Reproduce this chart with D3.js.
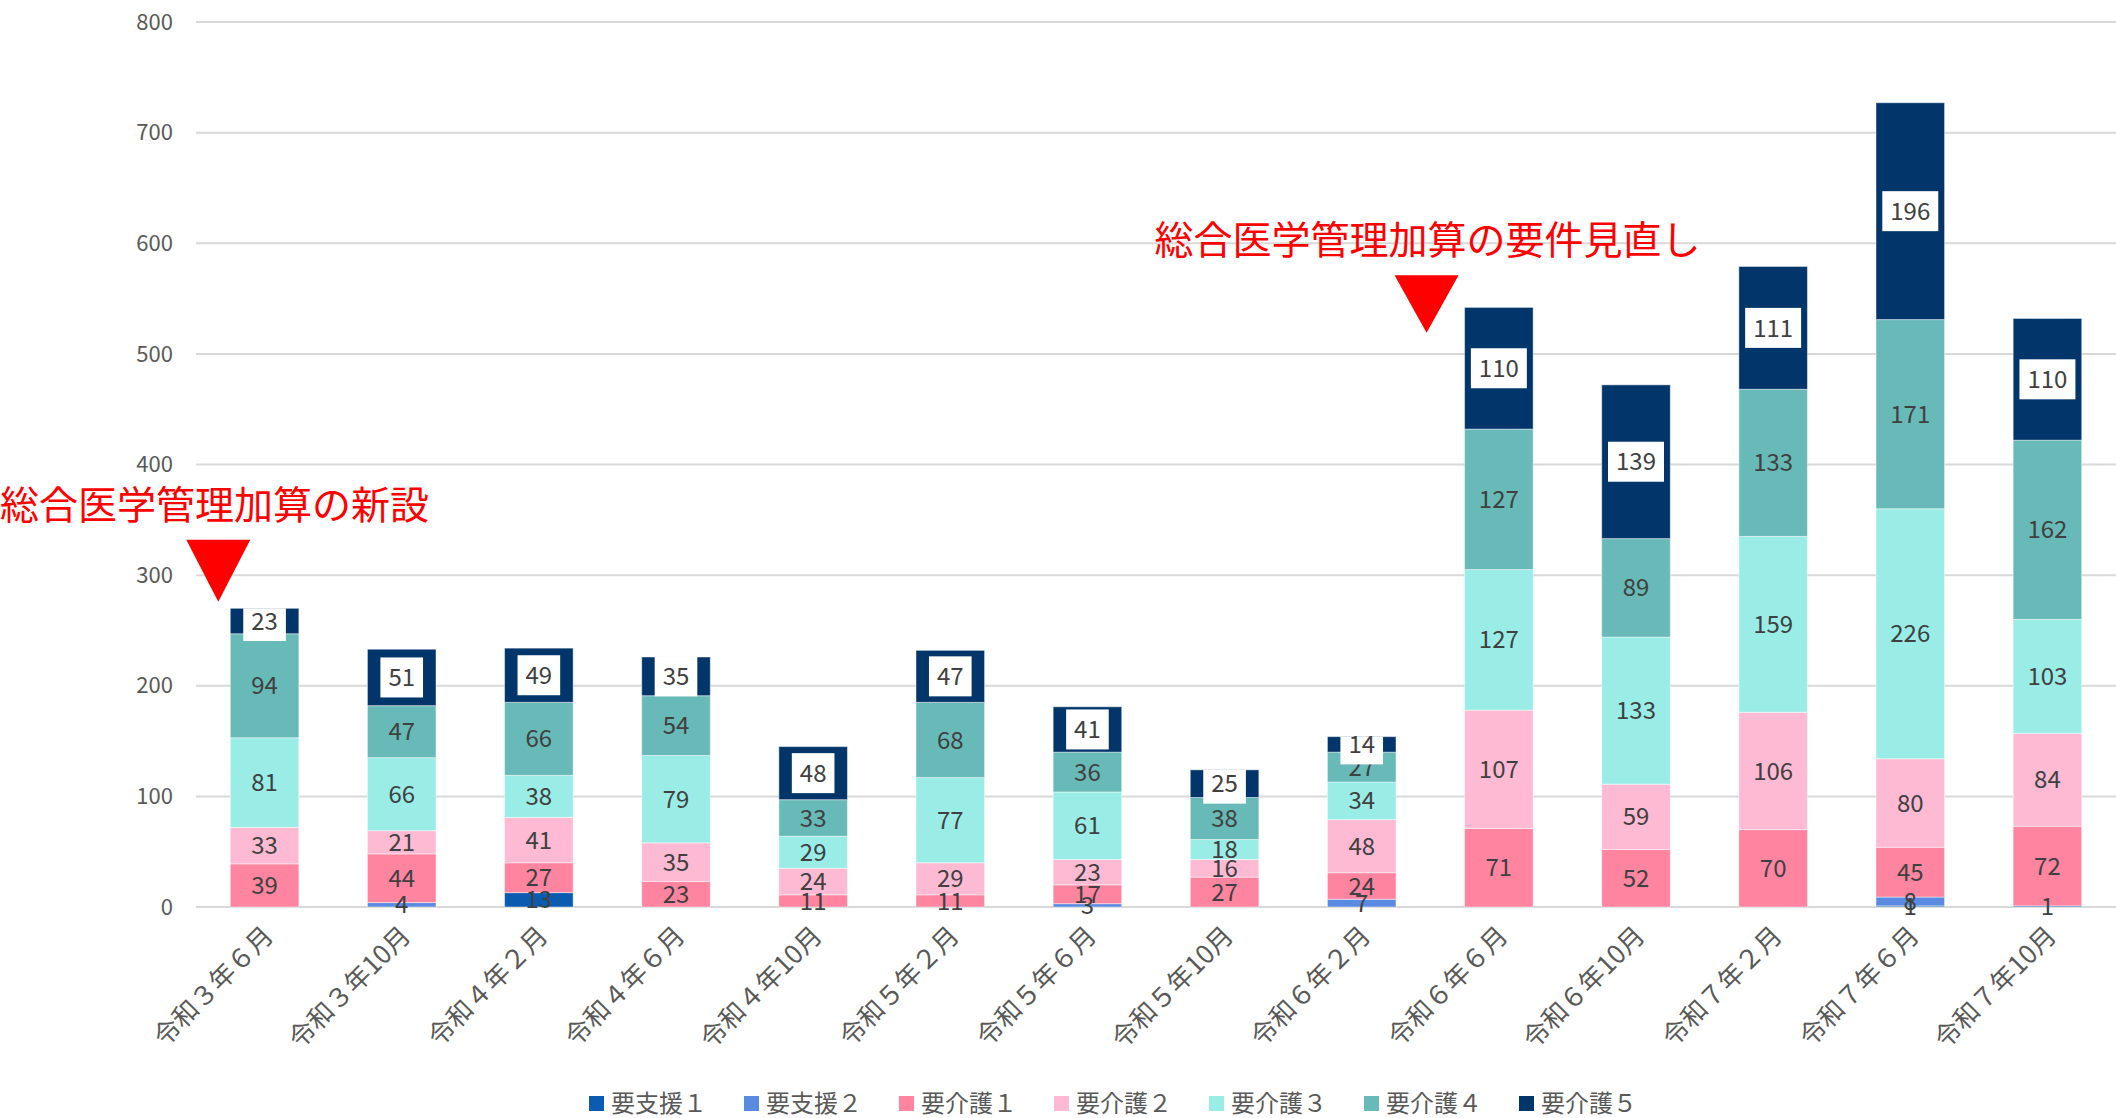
<html>
<head>
<meta charset="utf-8">
<title>stacked-bar</title>
<script src="https://d3js.org/d3.v7.min.js"></script>
<style>
  body { margin: 0; background: #fff; }
  text { font-family: "Noto Sans CJK JP", "Noto Sans", sans-serif; }
</style>
</head>
<body>
<script>
// categories (x axis)
const categories = ["令和３年６月", "令和３年10月", "令和４年２月", "令和４年６月", "令和４年10月",
  "令和５年２月", "令和５年６月", "令和５年10月", "令和６年２月", "令和６年６月",
  "令和６年10月", "令和７年２月", "令和７年６月", "令和７年10月"];

const seriesNames = ["要支援１", "要支援２", "要介護１", "要介護２", "要介護３", "要介護４", "要介護５"];
const seriesColors = ["#0B5CB0", "#5B8BE0", "#FF84A0", "#FFBAD3", "#9AEDE7", "#67BAB7", "#02366A"];

const shien1  = [0, 0, 13, 0, 0, 0, 0, 0, 0, 0, 0, 0, 1, 1];
const shien2  = [0, 4, 0, 0, 0, 0, 3, 0, 7, 0, 0, 0, 8, 0];
const kaigo1  = [39, 44, 27, 23, 11, 11, 17, 27, 24, 71, 52, 70, 45, 72];
const kaigo2  = [33, 21, 41, 35, 24, 29, 23, 16, 48, 107, 59, 106, 80, 84];
const kaigo3  = [81, 66, 38, 79, 29, 77, 61, 18, 34, 127, 133, 159, 226, 103];
const kaigo4  = [94, 47, 66, 54, 33, 68, 36, 38, 27, 127, 89, 133, 171, 162];
const kaigo5  = [23, 51, 49, 35, 48, 47, 41, 25, 14, 110, 139, 111, 196, 110];

const yTicks = [0, 100, 200, 300, 400, 500, 600, 700, 800];

// annotations: text, category index, value
const annoTexts = ["総合医学管理加算の新設", "総合医学管理加算の要件見直し"];
const annoCats = [0, 9];
const annoTextValue = [363, 603];
const annoTriTop = [332, 571];
const annoTriTip = [276, 519];

const W = 2116, H = 1118;
const mLeft = 196, mRight = 2116, mBottom = 907, mTop = 22;

const allSeries = [shien1, shien2, kaigo1, kaigo2, kaigo3, kaigo4, kaigo5];
const table = categories.map((c, i) => {
  const row = { cat: c };
  seriesNames.forEach((s, j) => row[s] = allSeries[j][i]);
  return row;
});

const stacked = d3.stack().keys(seriesNames)(table);

const svg = d3.select("body").append("svg")
  .attr("width", W).attr("height", H);

const x = d3.scaleBand().domain(categories).range([mLeft, mRight])
  .paddingInner(0.5).paddingOuter(0.25);
const y = d3.scaleLinear().domain([0, 800]).range([mBottom, mTop]);

// grid
svg.append("g").selectAll("line").data(yTicks).enter().append("line")
  .attr("x1", mLeft).attr("x2", mRight)
  .attr("y1", d => y(d)).attr("y2", d => y(d))
  .attr("stroke", "#d9d9d9").attr("stroke-width", 2);

// y labels
svg.append("g").selectAll("text").data(yTicks).enter().append("text")
  .attr("x", 173).attr("y", d => y(d))
  .attr("dy", "0.35em")
  .attr("text-anchor", "end")
  .attr("font-size", 22)
  .attr("fill", "#595959")
  .text(d => d);

// bars
const layers = svg.append("g").selectAll("g").data(stacked).enter().append("g")
  .attr("fill", (d, i) => seriesColors[i]);
layers.selectAll("rect").data(d => d).enter().append("rect")
  .attr("x", d => x(d.data.cat))
  .attr("width", x.bandwidth())
  .attr("y", d => y(d[1]))
  .attr("height", d => y(d[0]) - y(d[1]))
  .attr("stroke", "rgba(255,255,255,0.45)")
  .attr("stroke-width", 1);

// labels
stacked.forEach((layer, si) => {
  const g = svg.append("g");
  layer.forEach(d => {
    const v = d[1] - d[0];
    if (!v) return;
    const cx = x(d.data.cat) + x.bandwidth() / 2;
    const cy = (y(d[0]) + y(d[1])) / 2;
    const t = g.append("text")
      .attr("x", cx).attr("y", cy).attr("dy", "0.36em")
      .attr("text-anchor", "middle")
      .attr("font-size", 24)
      .attr("fill", "#404040")
      .text(v);
    if (si === seriesNames.length - 1) {
      const bw = t.node().getComputedTextLength() + 16;
      const bt = Math.max(cy - 20, y(d[1]));
      g.insert("rect", "text")
        .attr("x", cx - bw / 2).attr("width", bw)
        .attr("y", bt).attr("height", cy + 20 - bt)
        .attr("fill", "#fff");
    }
  });
});

// x labels
svg.append("g").selectAll("text").data(categories).enter().append("text")
  .attr("transform", d => `translate(${x(d) + x.bandwidth() / 2 + 4},${mBottom + 24}) rotate(-45)`)
  .attr("text-anchor", "end")
  .attr("dy", "0.35em")
  .attr("font-size", 26)
  .attr("fill", "#595959")
  .text(d => d);

// annotations
const annoTextX = [0, x(categories[9]) - 310];
const annoTriDx = [-12, -38];
annoTexts.forEach((t, i) => {
  svg.append("text")
    .attr("x", annoTextX[i]).attr("y", y(annoTextValue[i]))
    .attr("dy", "0.36em")
    .attr("font-size", 39)
    .attr("fill", "#ff0000")
    .text(t);
  const tx = x(categories[annoCats[i]]) + annoTriDx[i];
  svg.append("path")
    .attr("d", `M${tx - 32},${y(annoTriTop[i])} L${tx + 32},${y(annoTriTop[i])} L${tx},${y(annoTriTip[i])} Z`)
    .attr("fill", "#ff0000");
});

// legend
const legend = svg.append("g").attr("transform", "translate(589,1104)");
const li = legend.selectAll("g").data(seriesNames).enter().append("g")
  .attr("transform", (d, i) => `translate(${i * 155},0)`);
li.append("rect").attr("x", 0).attr("y", -8).attr("width", 15).attr("height", 15)
  .attr("fill", (d, i) => seriesColors[i]);
li.append("text").attr("x", 22).attr("y", 0).attr("dy", "0.35em")
  .attr("font-size", 24).attr("fill", "#595959")
  .text(d => d);
</script>
</body>
</html>
